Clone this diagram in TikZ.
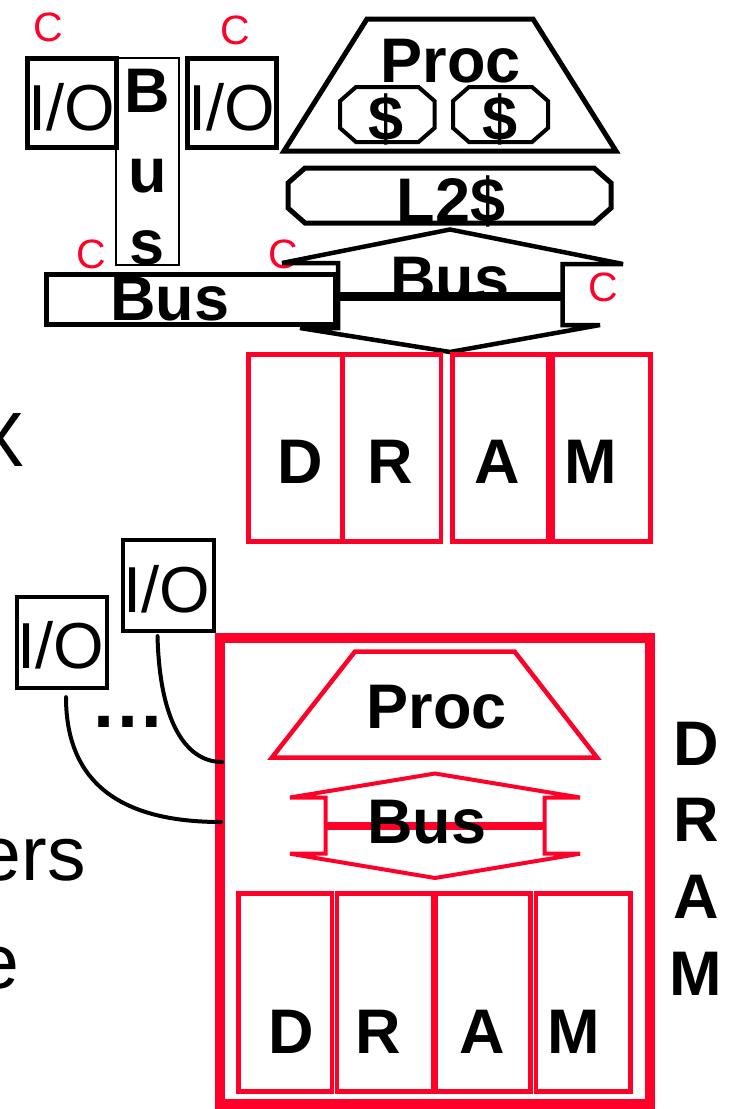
\documentclass[tikz,border=0pt]{standalone}
\usepackage{fontspec}
\setmainfont{Liberation Sans}
\definecolor{myred}{RGB}{255,0,41}
\tikzset{
  lbl/.style={inner sep=0pt, anchor=base, font=\fontsize{65}{65}\selectfont},
  blbl/.style={inner sep=0pt, anchor=base, font=\fontsize{63}{63}\selectfont\bfseries},
  clbl/.style={inner sep=0pt, anchor=base, text=myred, font=\fontsize{41}{41}\selectfont},
  frag/.style={inner sep=0pt, font=\fontsize{77}{77}\selectfont},
  iobox/.style={draw, line width=4.5pt, inner sep=0pt, minimum width=89pt, minimum height=89pt},
  blk/.style={draw, line width=4.5pt, line join=miter},
  rbox/.style={draw=myred, line width=4.5pt},
  conn/.style={line width=4pt, line cap=round},
}
\begin{document}
\begin{tikzpicture}[x=1pt,y=-1pt]
\useasboundingbox (0,0) rectangle (737,1109);
\fill[white] (0,0) rectangle (737,1109);

% ---------- left-edge text fragments ----------
\node[frag, anchor=center] (fx) at (-1,440) {X};
\node[frag, anchor=base east] (fers) at (86,880) {ers};
\node[frag, anchor=base east] (fe) at (20,988) {e};

% ---------- top system ----------
\node[iobox] (io1) at (72,103) {};
\node[lbl] (io1t) at (72,130) {I/O};
\node[iobox] (io2) at (232,103) {};
\node[lbl] (io2t) at (232,130) {I/O};
\node[draw, line width=1.8pt, inner sep=0pt, minimum width=63pt, minimum height=207pt] (vbus) at (147.5,161.5) {};
\node[blbl] (vb1) at (147.5,112) {B};
\node[blbl] (vb2) at (147.5,192) {u};
\node[blbl] (vb3) at (147.5,264) {s};

\node[clbl] (c1) at (48,41) {C};
\node[clbl] (c2) at (235,44) {C};
\node[clbl] (c3) at (91,268) {C};
\node[clbl] (c4) at (283,268) {C};
\node[clbl] (c5) at (603,301) {C};

% processor
\draw[blk, line width=5pt, fill=white] (284,151) -- (367,19) -- (533,19) -- (616,151) -- cycle;
\node[blbl] (proc1) at (451,82) {Proc};
\draw[blk, line width=4pt, fill=white] (356,87) -- (418.5,87) -- (434.5,101) -- (434.5,128) -- (418.5,142) -- (356,142) -- (340,128) -- (340,101) -- cycle;
\draw[blk, line width=4pt, fill=white] (469,87) -- (532,87) -- (548,101) -- (548,128) -- (532,142) -- (469,142) -- (453,128) -- (453,101) -- cycle;
\node[blbl] (d1) at (386,140) {\$};
\node[blbl] (d2) at (500,140) {\$};

% L2 cache
\draw[blk, line width=5pt, fill=white] (305,168) -- (594,168) -- (611,183) -- (611,208) -- (594,223) -- (305,223) -- (288,208) -- (288,183) -- cycle;
\node[blbl] (l2) at (451,222) {L2\$};

% bus arrow
\draw[blk, line width=4.5pt, fill=white] (450,229.5) -- (623,264) -- (562.5,264) -- (562.5,325) -- (600,325) -- (450,352) -- (300,328) -- (338,328) -- (338,263) -- (282,263) -- cycle;
\node[blbl] (bus2) at (450,300) {Bus};
\draw[line width=9pt] (338,296) -- (562.5,296);

% horizontal bus
\node[draw, fill=white, line width=5pt, inner sep=0pt, minimum width=289pt, minimum height=50pt] (hbus) at (191,299.5) {};
\node[blbl] (hbust) at (170,320) {Bus};

% DRAM (top)
\draw[rbox] (248.5,354.5) rectangle (342.5,541.5);
\draw[rbox] (342.5,354.5) rectangle (441,541.5);
\draw[rbox] (452.5,354.5) rectangle (548.5,541.5);
\draw[rbox] (552.5,354.5) rectangle (650.5,541.5);
\node[blbl] (t1) at (300,483) {D};
\node[blbl] (t2) at (390,483) {R};
\node[blbl] (t3) at (497,483) {A};
\node[blbl] (t4) at (591,483) {M};

% ---------- bottom: IRAM ----------
\node[draw=myred, line width=10pt, inner sep=0pt, minimum width=430.5pt, minimum height=466.5pt] (chip) at (434.75,870.75) {};

\draw[draw=myred, line width=4.5pt, line join=miter] (272,757.5) -- (355,651.5) -- (514.5,651.5) -- (597,757.5) -- cycle;
\node[blbl] (proc2) at (437,728) {Proc};

\draw[draw=myred, line width=4pt, line join=miter] (435,773.5) -- (580,797.5) -- (544.7,797.5) -- (544.7,853.7) -- (580,853.7) -- (435,878) -- (290,853.7) -- (325.5,853.7) -- (325.5,797.5) -- (290,797.5) -- cycle;
\draw[myred, line width=8pt] (325.5,826) -- (544.7,826);
\node[blbl] (bus3) at (427,843) {Bus};

\draw[rbox] (238.3,893.3) rectangle (332,1091.5);
\draw[rbox] (337,893.3) rectangle (433,1091.5);
\draw[rbox] (436,893.3) rectangle (530.5,1091.5);
\draw[rbox] (536,893.3) rectangle (630.5,1091.5);
\node[blbl] (b1) at (291,1053) {D};
\node[blbl] (b2) at (378,1053) {R};
\node[blbl] (b3) at (482,1053) {A};
\node[blbl] (b4) at (574,1053) {M};

\node[blbl] (r1) at (696,765) {D};
\node[blbl] (r2) at (696,841) {R};
\node[blbl] (r3) at (696,918) {A};
\node[blbl] (r4) at (696,995) {M};

% I/O devices
\node[iobox, line width=4.3pt, minimum width=90pt, minimum height=91pt] (ioA) at (62,642.5) {};
\node[lbl] (ioAt) at (61,668) {I/O};
\node[iobox, line width=4.3pt, minimum width=91pt, minimum height=91pt] (ioB) at (168.5,585.5) {};
\node[lbl] (ioBt) at (167,612) {I/O};
\node[inner sep=0pt, anchor=base, font=\fontsize{75}{75}\selectfont\bfseries] (dots) at (128,727) {…};

\coordinate (p1) at (222,762);
\coordinate (p2) at (221,822);
\draw[conn] ([xshift=-11pt,yshift=-3pt]ioB.south) .. controls (160,730) and (190,762) .. (p1);
\draw[conn] ([xshift=4pt,yshift=-7pt]ioA.south) .. controls (66,790) and (130,822) .. (p2);
\end{tikzpicture}
\end{document}
